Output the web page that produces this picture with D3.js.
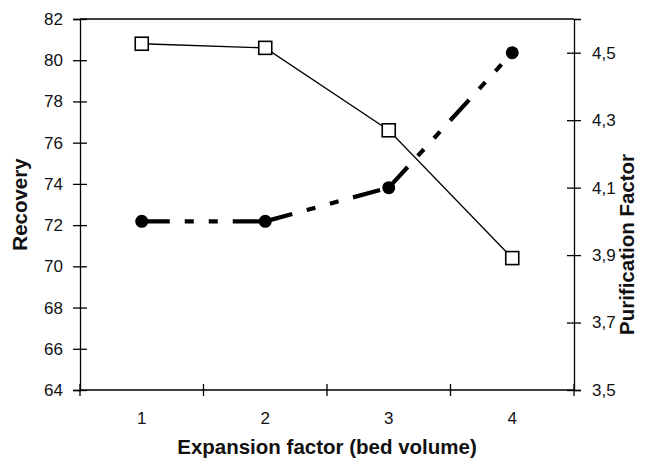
<!DOCTYPE html>
<html>
<head>
<meta charset="utf-8">
<script src="https://cdn.jsdelivr.net/npm/d3@7"></script>
<style>
  body { margin: 0; background: #fff; }
  text { font-family: "Liberation Sans", Arial, sans-serif; fill: #111; }
</style>
</head>
<body>
<script>
// expansion factor categories
var categories = ["1", "2", "3", "4"];
// recovery (left axis), open squares
var recovery = [80.8, 80.6, 76.6, 70.4];
// purification factor (right axis), filled circles
var purification = [4.0, 4.0, 4.1, 4.5];
var leftTicks = [64, 66, 68, 70, 72, 74, 76, 78, 80, 82];
var rightTicks = [3.5, 3.7, 3.9, 4.1, 4.3, 4.5];

var w = 645;
var h = 463;
var pLeft = 80, pRight = 574, pTop = 19, pBottom = 390;

var svg = d3.select("body")
  .append("svg")
  .attr("width", w)
  .attr("height", h);

var x = d3.scaleBand()
  .domain(categories)
  .range([pLeft, pRight]);

var yL = d3.scaleLinear()
  .domain([64, 82])
  .range([pBottom, pTop]);

var yR = d3.scaleLinear()
  .domain([3.5, 4.6])
  .range([pBottom, pTop]);

function cx(d, i) {
  return x(categories[i]) + x.bandwidth() / 2;
}

// frame top line
svg.append("line")
  .attr("x1", pLeft).attr("x2", pRight)
  .attr("y1", pTop).attr("y2", pTop)
  .attr("stroke", "#000").attr("stroke-width", 1.3);

// left axis
var gL = svg.append("g")
  .attr("transform", "translate(" + pLeft + ",0)")
  .call(d3.axisLeft(yL).tickValues(leftTicks).tickSize(7).tickPadding(10));
gL.selectAll(".tick line").attr("x1", 7);

// right axis
var gR = svg.append("g")
  .attr("transform", "translate(" + pRight + ",0)")
  .call(d3.axisRight(yR).tickValues(rightTicks).tickSize(7).tickPadding(11)
    .tickFormat(function(d) { return d.toFixed(1).replace(".", ","); }));
gR.selectAll(".tick line").attr("x1", -7);

// bottom axis, ticks between categories
var gB = svg.append("g")
  .attr("transform", "translate(0," + pBottom + ")")
  .call(d3.axisBottom(x).tickSize(0).tickPadding(22));
gB.selectAll(".tick")
  .append("line")
  .attr("x1", x.bandwidth() / 2).attr("x2", x.bandwidth() / 2)
  .attr("y1", -6).attr("y2", 6);
gB.append("line")
  .attr("x1", pLeft).attr("x2", pLeft)
  .attr("y1", -6).attr("y2", 6);

[gL, gR, gB].forEach(function(g) {
  g.selectAll("path").attr("stroke", "#000").attr("stroke-width", 1.3);
  g.selectAll("line").attr("stroke", "#000").attr("stroke-width", 1.3);
  g.selectAll("text").attr("font-size", "17px")
    .attr("font-family", "Liberation Sans, Arial, sans-serif").attr("fill", "#111");
});
gB.select(".domain").attr("d", "M" + pLeft + ",0H" + pRight);

// axis titles
svg.append("text")
  .text("Expansion factor (bed volume)")
  .attr("x", (pLeft + pRight) / 2)
  .attr("y", 454)
  .attr("text-anchor", "middle")
  .attr("font-size", "20.5px")
  .attr("font-weight", "bold");

svg.append("text")
  .text("Recovery")
  .attr("transform", "translate(27," + ((pTop + pBottom) / 2) + ") rotate(-90)")
  .attr("text-anchor", "middle")
  .attr("font-size", "20.5px")
  .attr("font-weight", "bold");

svg.append("text")
  .text("Purification Factor")
  .attr("transform", "translate(634," + ((pTop + pBottom) / 2 + 40) + ") rotate(-90)")
  .attr("text-anchor", "middle")
  .attr("font-size", "20.5px")
  .attr("font-weight", "bold");

// recovery line with open squares
var lineL = d3.line()
  .x(cx)
  .y(function(d) { return yL(d); });

svg.append("path")
  .datum(recovery)
  .attr("d", lineL)
  .attr("fill", "none")
  .attr("stroke", "#000")
  .attr("stroke-width", 1.3);

svg.selectAll("rect.sq")
  .data(recovery)
  .enter()
  .append("rect")
  .attr("class", "sq")
  .attr("x", function(d, i) { return cx(d, i) - 6.5; })
  .attr("y", function(d) { return yL(d) - 6.5; })
  .attr("width", 13)
  .attr("height", 13)
  .attr("fill", "#fff")
  .attr("stroke", "#000")
  .attr("stroke-width", 1.6);

// purification line, long dash dot dot, pattern restarts per segment
var pairs = d3.pairs(purification.map(function(d, i) { return [cx(d, i), yR(d)]; }));
svg.selectAll("path.seg")
  .data(pairs)
  .enter()
  .append("path")
  .attr("class", "seg")
  .attr("d", function(p) { return d3.line()(p); })
  .attr("fill", "none")
  .attr("stroke", "#000")
  .attr("stroke-width", 4.2)
  .attr("stroke-dasharray", "28,15,9,15,9,15");

svg.selectAll("circle.pt")
  .data(purification)
  .enter()
  .append("circle")
  .attr("class", "pt")
  .attr("cx", cx)
  .attr("cy", function(d) { return yR(d); })
  .attr("r", 6.5)
  .attr("fill", "#000");
</script>
</body>
</html>
